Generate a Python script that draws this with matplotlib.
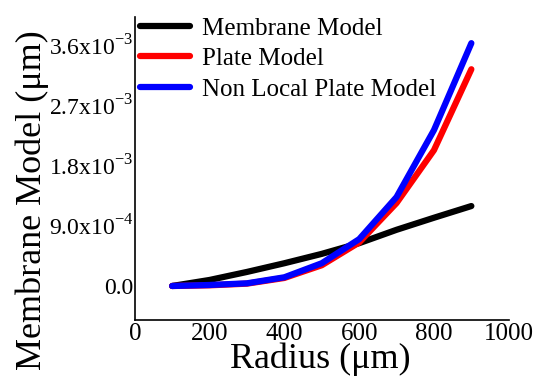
import matplotlib
matplotlib.use('Agg')
import matplotlib.pyplot as plt
import numpy as np

plt.rcParams['font.family'] = ['Liberation Serif', 'DejaVu Serif']
plt.rcParams['mathtext.fontset'] = 'custom'
plt.rcParams['mathtext.rm'] = 'Liberation Serif'

radius = [100, 200, 300, 400, 500, 600, 700, 800, 900]
membrane = [0.0, 0.09e-3, 0.21e-3, 0.34e-3, 0.48e-3, 0.64e-3, 0.84e-3, 1.02e-3, 1.195e-3]
plate = [0.0, 0.01e-3, 0.035e-3, 0.12e-3, 0.31e-3, 0.65e-3, 1.24e-3, 2.03e-3, 3.24e-3]
nonlocal_plate = [0.0, 0.015e-3, 0.04e-3, 0.13e-3, 0.34e-3, 0.70e-3, 1.33e-3, 2.33e-3, 3.63e-3]

yticks = [0.0, 0.9e-3, 1.8e-3, 2.7e-3, 3.6e-3]
ytick_labels = ['0.0', r'9.0x10$^{\mathregular{-4}}$', r'1.8x10$^{\mathregular{-3}}$',
                r'2.7x10$^{\mathregular{-3}}$', r'3.6x10$^{\mathregular{-3}}$']
xticks = [0, 200, 400, 600, 800, 1000]

fig = plt.figure(figsize=(5.5, 3.88), dpi=100)
ax = fig.add_axes([0.245, 0.175, 0.68, 0.781])

ax.plot(radius, membrane, color='black', lw=4.5, solid_capstyle='round', label='Membrane Model')
ax.plot(radius, plate, color='#ff0000', lw=4.5, solid_capstyle='round', label='Plate Model')
ax.plot(radius, nonlocal_plate, color='#0000ff', lw=4.5, solid_capstyle='round', label='Non Local Plate Model')

ax.set_xlim(0, 1000)
ax.set_ylim(-0.51e-3, 4.02e-3)
ax.set_xticks(xticks)
ax.set_xticklabels([str(t) for t in xticks], fontsize=18)
ax.set_yticks(yticks)
ax.set_yticklabels(ytick_labels, fontsize=17)
ax.tick_params(axis='y', length=0, pad=1)
ax.tick_params(axis='x', length=0, pad=2)

for s in ['top', 'right']:
    ax.spines[s].set_visible(False)
for s in ['left', 'bottom']:
    ax.spines[s].set_linewidth(1.2)

ax.set_xlabel('Radius (μm)', fontsize=26)
ax.xaxis.set_label_coords(0.497, -0.075)
ax.xaxis.label.set_va('top')
ax.set_ylabel('Membrane Model (μm)', fontsize=26)
ax.yaxis.set_label_coords(-0.275, 0.396)
ax.yaxis.label.set_va('center')

ax.legend(loc='upper left', frameon=False, fontsize=18, handlelength=2.0,
          handletextpad=0.48, borderaxespad=0.0, labelspacing=0.32,
          bbox_to_anchor=(-0.013, 1.033))

fig.savefig('out.png', dpi=100)
